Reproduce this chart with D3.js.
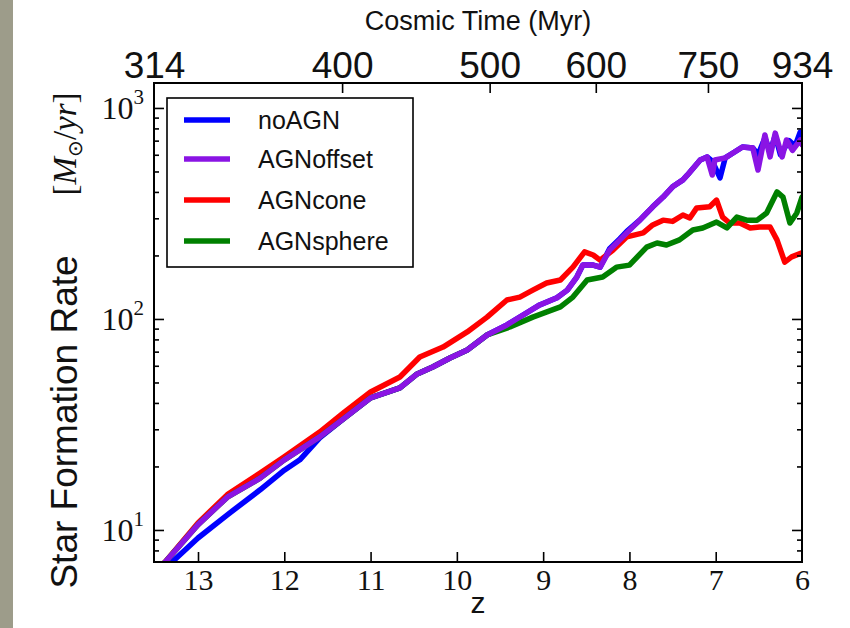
<!DOCTYPE html>
<html><head><meta charset="utf-8">
<script src="https://cdn.jsdelivr.net/npm/d3@7"></script>
<style>
html,body{margin:0;padding:0;background:#fff;}
svg{display:block;}
</style></head>
<body>
<svg id="chart" width="850" height="628"></svg>
<script>
// ---- data ----
const seriesNames = ["noAGN", "AGNoffset", "AGNcone", "AGNsphere"];
const seriesColors = ["#0000ff", "#8a14e4", "#ff0000", "#008000"];

const zNoAGN = [13.51,13.30,13.0,12.66,12.28,12.0,11.82,11.59,11.30,11.0,10.66,10.46,10.28,10.08,9.88,9.65,9.42,9.19,9.04,8.84,8.72,8.61,8.54,8.42,8.34,8.23,8.11,8.03,7.88,7.73,7.61,7.50,7.38,7.33,7.18,7.10,7.04,6.95,6.89,6.80,6.69,6.57,6.51,6.43,6.37,6.31,6.25,6.15,6.08,6.02,6.0];
const sfrNoAGN = [5.98,7.05,9.16,11.8,15.5,19.2,21.5,27.3,34.0,42.3,47.1,54.9,59.2,65.3,71.3,84,93.7,107,116.5,126,137,158,180,180,176,215,240,260,294,340,378,423,456,480,567,586,560,466,580,612,653,646,600,720,620,740,600,700,660,769,720];

const zOffset = [13.51,13.38,13.0,12.66,12.28,12.0,11.59,11.30,11.0,10.66,10.46,10.28,10.08,9.88,9.65,9.42,9.19,9.04,8.84,8.72,8.61,8.54,8.42,8.34,8.23,8.11,8.03,7.88,7.73,7.61,7.50,7.38,7.33,7.18,7.10,7.04,7.01,6.89,6.80,6.69,6.57,6.51,6.43,6.37,6.31,6.23,6.18,6.11,6.02,6.0];
const sfrOffset = [6.2,7.05,10.6,14.3,17.6,21.5,27.6,34.0,42.3,47.1,54.9,59.2,65.3,71.3,84,93.7,107,116.5,126,137,158,180,180,176,212,237,256,294,340,378,423,456,480,567,586,481,567,580,612,653,646,508,745,586,760,586,705,630,705,670];

const zCone = [13.51,13.38,13.0,12.66,12.28,12.0,11.59,11.30,11.0,10.66,10.43,10.16,9.88,9.65,9.42,9.27,9.12,8.96,8.80,8.655,8.52,8.42,8.34,8.19,8.03,7.84,7.73,7.61,7.50,7.38,7.30,7.22,7.07,6.99,6.92,6.84,6.72,6.60,6.49,6.37,6.29,6.20,6.12,6.0];
const sfrCone = [6.2,7.05,10.8,14.7,18.6,22.2,29.1,36.3,45.1,53.1,66.0,73.6,86.8,102,123,127,137,148,153,176,208,201,190,212,245,256,279,294,290,311,301,336,340,366,304,285,285,270,273,273,237,186,197,206];

const zSphere = [13.51,13.38,13.0,12.66,12.28,12.0,11.59,11.30,11.0,10.66,10.46,10.28,10.08,9.88,9.65,9.385,9.12,8.80,8.655,8.49,8.31,8.15,8.0,7.80,7.68,7.57,7.42,7.265,7.15,6.99,6.87,6.755,6.64,6.52,6.41,6.29,6.22,6.14,6.06,6.0];
const sfrSphere = [6.2,7.05,10.6,14.3,17.6,21.5,27.6,34.0,42.3,47.1,54.9,59.2,65.3,71.3,84,91.6,102,114,127,153,158,176,180,219,229,224,237,264,270,288,270,304,294,294,318,400,378,285,318,378];

const zTicks = [13, 12, 11, 10, 9, 8, 7, 6];
const yMajorTicks = [10, 100, 1000];
const yMajorExp = ["1", "2", "3"];
const yMinorTicks = [8, 9, 20, 30, 40, 50, 60, 70, 80, 90, 200, 300, 400, 500, 600, 700, 800, 900];
const timeLabels = ["314", "400", "500", "600", "750", "934"];
const timeZ = [13.51, 11.33, 9.62, 8.39, 7.09, 6.0];

// ---- layout ----
const svg = d3.select("#chart");
const L = 154, R = 802, T = 83, B = 562;
const x = d3.scaleLinear().domain([13.51, 6]).range([L, R]);
const y = d3.scaleLog().domain([7.05, 1313]).range([B, T]);
const sans = "'Liberation Sans', Arial, Helvetica, sans-serif";
const serif = "'Liberation Serif', 'Times New Roman', serif";

// textured left strip
svg.append("rect").attr("x", 0).attr("y", 0).attr("width", 13).attr("height", 628).attr("fill", "#9d9c8a");

svg.append("defs").append("clipPath").attr("id", "clip")
  .append("rect").attr("x", L).attr("y", T).attr("width", R - L).attr("height", B - T);

// lines
const allZ = [zNoAGN, zOffset, zCone, zSphere];
const allS = [sfrNoAGN, sfrOffset, sfrCone, sfrSphere];
const line = d3.line().x(d => x(d[0])).y(d => y(d[1]));
const drawOrder = [0, 2, 3, 1];
const gLines = svg.append("g").attr("clip-path", "url(#clip)");
drawOrder.forEach(i => {
  const pts = allZ[i].map((z, k) => [z, allS[i][k]]);
  gLines.append("path").datum(pts).attr("d", line)
    .attr("fill", "none").attr("stroke", seriesColors[i])
    .attr("stroke-width", 5.5).attr("stroke-linejoin", "round").attr("stroke-linecap", "round");
});

// axes
function styleAxis(g) {
  g.select(".domain").remove();
  g.selectAll(".tick line").attr("stroke", "#000").attr("stroke-width", 1.6);
}
// bottom
const gB = svg.append("g").attr("transform", `translate(0,${B})`)
  .call(d3.axisBottom(x).tickValues(zTicks).tickFormat(d3.format("d")).tickSizeInner(-10).tickSizeOuter(0).tickPadding(7));
styleAxis(gB);
gB.selectAll("text").attr("font-family", serif).attr("font-size", 30).attr("fill", "#111");
gB.selectAll(".tick").filter(d => d === 6).select("line").remove();
// top
const gT = svg.append("g").attr("transform", `translate(0,${T})`)
  .call(d3.axisTop(x).tickValues(timeZ).tickFormat((d, i) => timeLabels[i]).tickSizeInner(-10).tickSizeOuter(0).tickPadding(5));
styleAxis(gT);
gT.selectAll("text").attr("font-family", sans).attr("font-size", 37).attr("fill", "#111");
gT.selectAll(".tick").filter((d, i) => i === 0 || i === timeZ.length - 1).select("line").remove();
// left major
const gL = svg.append("g").attr("transform", `translate(${L},0)`)
  .call(d3.axisLeft(y).tickValues(yMajorTicks).tickFormat("").tickSizeInner(-10).tickSizeOuter(0).tickPadding(10));
styleAxis(gL);
gL.selectAll(".tick text").each(function(d, i) {
  const t = d3.select(this);
  t.text(null).attr("font-family", serif).attr("font-size", 32).attr("fill", "#111").attr("dy", "0.32em");
  t.append("tspan").text("10");
  t.append("tspan").text(yMajorExp[i]).attr("font-size", 21).attr("dy", "-0.7em");
});
const gLm = svg.append("g").attr("transform", `translate(${L},0)`)
  .call(d3.axisLeft(y).tickValues(yMinorTicks).tickFormat("").tickSizeInner(-5).tickSizeOuter(0));
styleAxis(gLm);
// right
const gR = svg.append("g").attr("transform", `translate(${R},0)`)
  .call(d3.axisRight(y).tickValues(yMajorTicks).tickFormat("").tickSizeInner(-10).tickSizeOuter(0));
styleAxis(gR);
const gRm = svg.append("g").attr("transform", `translate(${R},0)`)
  .call(d3.axisRight(y).tickValues(yMinorTicks).tickFormat("").tickSizeInner(-5).tickSizeOuter(0));
styleAxis(gRm);

// frame
svg.append("rect").attr("x", L).attr("y", T).attr("width", R - L).attr("height", B - T)
  .attr("fill", "none").attr("stroke", "#000").attr("stroke-width", 2);

// titles
svg.append("text").attr("x", 478).attr("y", 30).attr("text-anchor", "middle")
  .attr("font-family", sans).attr("font-size", 27).attr("fill", "#111").text("Cosmic Time (Myr)");
svg.append("text").attr("x", 478).attr("y", 613).attr("text-anchor", "middle")
  .attr("font-family", sans).attr("font-size", 30).attr("fill", "#111").text("z");
svg.append("text").attr("transform", "translate(77,422) rotate(-90)").attr("text-anchor", "middle")
  .attr("font-family", sans).attr("font-size", 37).attr("fill", "#111").text("Star Formation Rate");
const unit = svg.append("text").attr("transform", "translate(76,144) rotate(-90)").attr("text-anchor", "middle")
  .attr("font-family", serif).attr("font-size", 33).attr("fill", "#111");
unit.append("tspan").text("[");
unit.append("tspan").text("M").attr("font-style", "italic");
unit.append("tspan").text("⊙").attr("font-size", 20).attr("dy", "0.3em");
unit.append("tspan").text("/").attr("dy", "-0.18em");
unit.append("tspan").text("yr").attr("font-style", "italic");
unit.append("tspan").text("]");

// legend
const gLeg = svg.append("g");
gLeg.append("rect").attr("x", 167).attr("y", 98).attr("width", 246).attr("height", 169)
  .attr("fill", "#fff").attr("stroke", "#000").attr("stroke-width", 1.6);
const legY = [120, 159, 200, 241];
seriesNames.forEach((n, i) => {
  gLeg.append("line").attr("x1", 184).attr("x2", 230).attr("y1", legY[i]).attr("y2", legY[i])
    .attr("stroke", seriesColors[i]).attr("stroke-width", 5.5);
  gLeg.append("text").attr("x", 258).attr("y", legY[i]).attr("dy", "0.35em")
    .attr("font-family", sans).attr("font-size", 25).attr("fill", "#111").text(n);
});
</script>
</body></html>
